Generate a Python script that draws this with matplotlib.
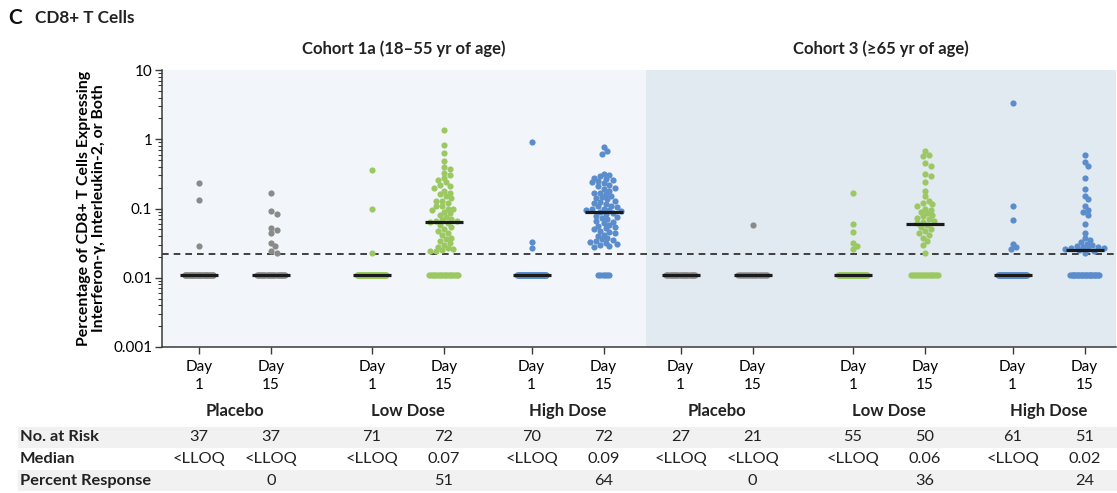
import numpy as np
import matplotlib
matplotlib.use("Agg")
import matplotlib.pyplot as plt
from matplotlib.patches import Rectangle
from matplotlib.transforms import blended_transform_factory

plt.rcParams['font.family'] = ['Lato', 'DejaVu Sans']

# ---- data ----
cohorts = ['Cohort 1a (18\u201355 yr of age)', 'Cohort 3 (\u226565 yr of age)']
groups = ['Placebo', 'Low Dose', 'High Dose']
days = ['1', '15']
lloq = 0.022          # lower limit of quantification (dashed line)
below_value = 0.011   # where values <LLOQ are drawn

n_at_risk = [37, 37, 71, 72, 70, 72, 27, 21, 55, 50, 61, 51]
median_text = ['<LLOQ', '<LLOQ', '<LLOQ', '0.07', '<LLOQ', '0.09',
               '<LLOQ', '<LLOQ', '<LLOQ', '0.06', '<LLOQ', '0.02']
pct_response = ['', '0', '', '51', '', '64', '', '0', '', '36', '', '24']

# measured values above LLOQ for each column (remaining subjects are <LLOQ)
c1_pla_d1 = [0.23, 0.132, 0.029]
c1_pla_d15 = [0.17, 0.091, 0.084, 0.053, 0.049, 0.045, 0.032, 0.029, 0.024, 0.023]
c1_low_d1 = [0.355, 0.10, 0.023]
c1_low_d15 = [1.35, 0.83, 0.63, 0.48, 0.40, 0.37, 0.33, 0.30, 0.28, 0.26, 0.24,
              0.22, 0.21, 0.20, 0.18, 0.17, 0.16, 0.15, 0.14, 0.13, 0.13, 0.12,
              0.11, 0.11, 0.10, 0.10, 0.095, 0.09, 0.085, 0.08, 0.075, 0.07,
              0.068, 0.066, 0.065, 0.064, 0.062, 0.058, 0.054, 0.05, 0.047,
              0.044, 0.041, 0.038, 0.036, 0.034, 0.032, 0.030, 0.028, 0.027,
              0.026, 0.025, 0.024, 0.024]
c1_high_d1 = [0.90, 0.0325, 0.0272]
c1_high_d15 = [0.78, 0.68, 0.62, 0.32, 0.30, 0.29, 0.28, 0.27, 0.26, 0.25, 0.24,
               0.23, 0.22, 0.21, 0.20, 0.19, 0.18, 0.17, 0.165, 0.16, 0.15,
               0.145, 0.14, 0.135, 0.13, 0.125, 0.12, 0.115, 0.11, 0.107, 0.104,
               0.10, 0.098, 0.096, 0.094, 0.092, 0.088, 0.085, 0.082, 0.079,
               0.076, 0.073, 0.07, 0.067, 0.064, 0.061, 0.058, 0.056, 0.054,
               0.052, 0.05, 0.048, 0.046, 0.044, 0.042, 0.04, 0.038, 0.036,
               0.035, 0.034, 0.033, 0.032, 0.031, 0.03, 0.029, 0.028]
c3_pla_d1 = []
c3_pla_d15 = [0.057]
c3_low_d1 = [0.169, 0.059, 0.046, 0.032, 0.029, 0.026]
c3_low_d15 = [0.68, 0.6, 0.57, 0.45, 0.41, 0.31, 0.29, 0.24, 0.18, 0.15, 0.13,
              0.12, 0.115, 0.11, 0.1, 0.095, 0.09, 0.085, 0.08, 0.077, 0.074,
              0.07, 0.067, 0.064, 0.061, 0.057, 0.054, 0.05, 0.047, 0.044,
              0.041, 0.038, 0.034, 0.03, 0.023]
c3_high_d1 = [3.3, 0.109, 0.068, 0.031, 0.028, 0.026]
c3_high_d15 = [0.6, 0.47, 0.41, 0.28, 0.19, 0.15, 0.135, 0.108, 0.095, 0.088,
               0.08, 0.059, 0.044, 0.037, 0.035, 0.033, 0.031, 0.03, 0.029,
               0.028, 0.028, 0.027, 0.027, 0.026, 0.026, 0.025, 0.024, 0.023]

columns = [c1_pla_d1, c1_pla_d15, c1_low_d1, c1_low_d15, c1_high_d1, c1_high_d15,
           c3_pla_d1, c3_pla_d15, c3_low_d1, c3_low_d15, c3_high_d1, c3_high_d15]

# ---- layout / style ----
xpos = [0, 1, 2.4, 3.4, 4.62, 5.62, 6.69, 7.69, 9.08, 10.08, 11.3, 12.3]
group_colors = {'Placebo': '#8a8a8a', 'Low Dose': '#9cc862', 'High Dose': '#5b8dcd'}
col_groups = [groups[(i // 2) % 3] for i in range(12)]
px_per_unit = 72.0
px_per_decade = 69.0


def beeswarm(vals, diam=4.8):
    """x offsets (data units) so that dots overlap only a little."""
    ys = np.log10(vals) * px_per_decade
    order = np.argsort(-ys)
    placed = []
    offs = np.zeros(len(vals))
    step = diam * 0.4
    for i in order:
        y = ys[i]
        k = 0
        while True:
            cands = [0.0] if k == 0 else [k * step, -k * step]
            ok = None
            for c in cands:
                if all((c - px) ** 2 + (y - py) ** 2 >= diam ** 2 for px, py in placed):
                    ok = c
                    break
            if ok is not None:
                break
            k += 1
        placed.append((ok, y))
        offs[i] = ok / px_per_unit
    return offs


fig = plt.figure(figsize=(11.17, 4.93), dpi=100)
ax = fig.add_axes([162 / 1117, 1 - 347 / 493, (1116 - 162) / 1117, (347 - 70) / 493])

x_left = (162 - 199) / px_per_unit
x_right = (1116 - 199) / px_per_unit
x_split = (646 - 199) / px_per_unit
ax.set_xlim(x_left, x_right)
ax.set_yscale('log')
ax.set_ylim(0.001, 10)
ax.set_facecolor('none')
ax.axvspan(x_left, x_split, color='#f2f6fa', zorder=0, lw=0)
ax.axvspan(x_split, x_right, color='#e1e9f1', zorder=0, lw=0)

ax.axhline(lloq, color='#222222', lw=1.2, ls=(0, (4, 3)), zorder=2)

for i, vals in enumerate(columns):
    color = group_colors[col_groups[i]]
    n_below = n_at_risk[i] - len(vals)
    x0 = xpos[i]
    if len(vals):
        offs = beeswarm(np.array(vals))
        ax.scatter(x0 + offs, vals, s=20, color=color, lw=0, zorder=3)
    if n_below > 0:
        spread = min(0.2, 0.0125 * n_below)
        bx = x0 + np.linspace(-spread, spread, n_below)
        ax.scatter(bx, np.full(n_below, below_value), s=20, color=color, lw=0, zorder=3)
    full = np.concatenate([np.array(vals, dtype=float), np.full(n_below, below_value)])
    med = np.median(full)
    if med < lloq:
        med = below_value
    ax.plot([x0 - 0.265, x0 + 0.265], [med, med], color='#1a1a1a', lw=2.3,
            solid_capstyle='butt', zorder=4)

ax.spines['top'].set_visible(False)
ax.spines['right'].set_visible(False)
for s in ['left', 'bottom']:
    ax.spines[s].set_color('#3a3a3a')
    ax.spines[s].set_linewidth(1.1)

ax.set_yticks([0.001, 0.01, 0.1, 1, 10])
ax.set_yticklabels(['0.001', '0.01', '0.1', '1', '10'])
ax.tick_params(axis='y', which='major', length=5, width=1, color='#3a3a3a',
               labelsize=11, pad=2)
ax.tick_params(axis='y', which='minor', length=3, width=0.8, color='#3a3a3a')
ax.set_xticks(xpos)
ax.set_xticklabels(['Day\n' + days[i % 2] for i in range(12)], linespacing=1.4)
ax.tick_params(axis='x', length=5, width=1, color='#3a3a3a', labelsize=11, pad=4)
ax.xaxis.set_minor_locator(plt.NullLocator())

ax.set_ylabel('Percentage of CD8+ T Cells Expressing\nInterferon-\u03b3, Interleukin-2, or Both',
              fontsize=11.4, fontweight='bold', labelpad=5, linespacing=1.1)

trans = blended_transform_factory(ax.transData, fig.transFigure)

def fy(py):
    return 1 - py / 493

# cohort titles
ax.text((x_left + x_split) / 2, fy(49), cohorts[0], transform=trans, ha='center',
        va='center', fontsize=12, fontweight='bold', color='#222222')
ax.text((x_split + x_right) / 2, fy(49), cohorts[1], transform=trans, ha='center',
        va='center', fontsize=12, fontweight='bold', color='#222222')

# group labels
for g in range(6):
    xc = (xpos[2 * g] + xpos[2 * g + 1]) / 2
    ax.text(xc, fy(411), groups[g % 3], transform=trans, ha='center', va='center',
            fontsize=12, fontweight='bold', color='#222222')

# table bands (behind everything)
for top in [427, 470]:
    fig.patches.append(Rectangle((18 / 1117, fy(top + 21)), 1 - 18 / 1117, 21 / 493,
                                 transform=fig.transFigure, color='#f1f1f1',
                                 zorder=-5, lw=0))

row_labels = ['No. at Risk', 'Median', 'Percent Response']
row_y = [437, 459, 481]
for lab, y in zip(row_labels, row_y):
    fig.text(20 / 1117, fy(y), lab, ha='left', va='center', fontsize=11.8,
             fontweight='bold', color='#222222')
for i in range(12):
    ax.text(xpos[i], fy(row_y[0]), str(n_at_risk[i]), transform=trans, ha='center',
            va='center', fontsize=11.8, color='#222222')
    ax.text(xpos[i], fy(row_y[1]), median_text[i], transform=trans, ha='center',
            va='center', fontsize=11.8, color='#222222')
    if pct_response[i]:
        ax.text(xpos[i], fy(row_y[2]), pct_response[i], transform=trans, ha='center',
                va='center', fontsize=11.8, color='#222222')

# panel title
fig.text(8 / 1117, fy(18), 'C', ha='left', va='center', fontsize=15,
         fontweight='bold', color='#111111')
fig.text(35 / 1117, fy(18), 'CD8+ T Cells', ha='left', va='center', fontsize=12.3,
         fontweight='bold', color='#222222')

fig.savefig('out.png', dpi=100)
